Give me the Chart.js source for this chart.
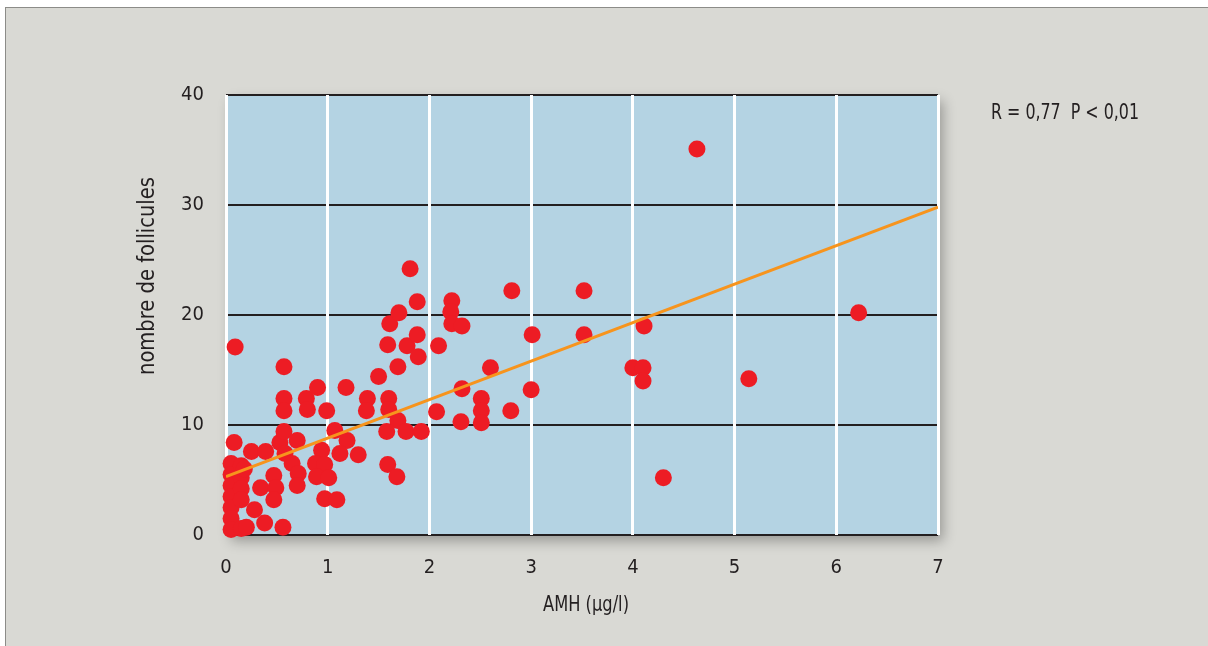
<!DOCTYPE html>
<html>
<head>
<meta charset="utf-8">
<script src="https://cdn.jsdelivr.net/npm/chart.js@4.4.1/dist/chart.umd.min.js"></script>
<style>
  html, body { margin: 0; padding: 0; background: #fff; }
  #wrap { width: 1208px; height: 646px; }
</style>
</head>
<body>
<div id="wrap"><canvas id="c" width="1208" height="646"></canvas></div>
<script>
// AMH (µg/l) vs nombre de follicules
const amh = [
  0.05, 0.05, 0.05, 0.05, 0.05, 0.05, 0.05,
  0.15, 0.15, 0.15, 0.15, 0.15, 0.20, 0.18,
  0.08, 0.09,
  0.25, 0.39, 0.28, 0.38, 0.34, 0.47, 0.49, 0.47, 0.56,
  0.53, 0.57, 0.58, 0.65, 0.71, 0.70, 0.70,
  0.57, 0.57, 0.57, 0.79, 0.80, 0.90, 0.99,
  0.94, 0.88, 0.97, 0.89, 1.01, 0.97, 1.09,
  1.07, 1.19, 1.12, 1.30, 1.18,
  1.39, 1.38, 1.50, 1.60, 1.60, 1.69, 1.58, 1.77, 1.92,
  1.59, 1.68, 1.69, 1.59, 1.78, 1.88, 1.89, 1.61, 1.70, 1.88, 1.81,
  2.07, 2.09, 2.22, 2.21, 2.22, 2.32, 2.32, 2.31,
  2.51, 2.51, 2.51, 2.60, 2.80, 2.81, 3.01, 3.00,
  3.52, 3.52, 4.00, 4.10, 4.10, 4.11, 4.30, 4.63, 5.14, 6.22
]
const follicles = [
  6.5, 5.5, 4.5, 3.5, 2.5, 1.5, 0.5,
  6.3, 5.2, 4.2, 3.2, 0.6, 0.7, 6.0,
  8.4, 17.1,
  7.6, 7.6, 2.3, 1.1, 4.3, 5.4, 4.3, 3.2, 0.7,
  8.4, 9.4, 7.4, 6.5, 5.6, 4.5, 8.6,
  15.3, 12.4, 11.3, 12.4, 11.4, 13.4, 11.3,
  7.7, 6.5, 6.4, 5.3, 5.2, 3.3, 3.2,
  9.5, 8.6, 7.4, 7.3, 13.4,
  12.4, 11.3, 14.4, 12.4, 11.4, 10.4, 9.4, 9.4, 9.4,
  6.4, 5.3, 15.3, 17.3, 17.2, 18.2, 16.2, 19.2, 20.2, 21.2, 24.2,
  11.2, 17.2, 21.3, 20.3, 19.2, 19.0, 13.3, 10.3,
  12.4, 11.3, 10.2, 15.2, 11.3, 22.2, 18.2, 13.2,
  22.2, 18.2, 15.2, 15.2, 14.0, 19.0, 5.2, 35.1, 14.2, 20.2
]

// regression line end points
const trendX = [0, 7]
const trendY = [5.3, 29.8]

const xTicks = [0, 1, 2, 3, 4, 5, 6, 7]
const yTicks = [0, 10, 20, 30, 40]

const xTitle = "AMH (\u00b5g/l)"
const yTitle = "nombre de follicules"
const statText = "R = 0,77  P < 0,01"

const FONT = "'Liberation Sans Narrow', 'DejaVu Sans Condensed', sans-serif"
const INK = "#231f20"

const points = amh.map((x, i) => ({ x, y: follicles[i] }))
const trend = trendX.map((x, i) => ({ x, y: trendY[i] }))

// narrow typeface in the original: squeeze the free text to its width
function squeezedText(ctx, text, x, y, width) {
  const w = ctx.measureText(text).width
  ctx.save()
  ctx.translate(x, y)
  ctx.scale(Math.min(1, width / w), 1)
  ctx.fillText(text, 0, 0)
  ctx.restore()
}

const frame = {
  id: "frame",
  beforeDraw(chart) {
    const { ctx, chartArea: a, width, height } = chart
    ctx.save()
    ctx.fillStyle = "#fff"
    ctx.fillRect(0, 0, width, height)
    ctx.fillStyle = "#d9d9d4"
    ctx.fillRect(5, 7, width, height)
    ctx.strokeStyle = "#8c8c88"
    ctx.lineWidth = 1
    ctx.strokeRect(5.5, 7.5, width, height)
    // plot panel with soft shadow
    ctx.shadowColor = "rgba(0,0,0,0.3)"
    ctx.shadowBlur = 12
    ctx.shadowOffsetX = 5
    ctx.shadowOffsetY = 6
    ctx.fillStyle = "#b4d3e3"
    ctx.fillRect(a.left, a.top, a.width, a.height)
    ctx.restore()
  },
  afterDraw(chart) {
    const { ctx, chartArea: a } = chart
    ctx.save()
    ctx.fillStyle = INK
    ctx.textBaseline = "middle"
    ctx.textAlign = "left"
    ctx.font = "21px " + FONT
    squeezedText(ctx, statText, 991, 114, 148)
    ctx.textAlign = "center"
    squeezedText(ctx, xTitle, (a.left + a.right) / 2 + 4, 606, 86)
    ctx.translate(148, 276)
    ctx.rotate(-Math.PI / 2)
    ctx.font = "23px " + FONT
    squeezedText(ctx, yTitle, 0, 0, 198)
    ctx.restore()
  }
}

new Chart(document.getElementById("c"), {
  type: "scatter",
  data: {
    datasets: [
      {
        type: "line",
        data: trend,
        borderColor: "#f7941d",
        borderWidth: 3,
        pointRadius: 0,
        fill: false,
        order: 0
      },
      {
        data: points,
        backgroundColor: "#ed1c24",
        borderWidth: 0,
        pointRadius: 8.5,
        pointHoverRadius: 8.5,
        clip: false,
        order: 1
      }
    ]
  },
  options: {
    responsive: false,
    animation: false,
    events: [],
    layout: { padding: { left: 126, right: 270, top: 95, bottom: 31 } },
    plugins: {
      legend: { display: false },
      tooltip: { enabled: false }
    },
    scales: {
      x: {
        type: "linear",
        min: 0,
        max: 7,
        afterFit: (s) => { s.height = 80 },
        afterBuildTicks: (s) => { s.ticks = xTicks.map(v => ({ value: v })) },
        grid: { color: "#ffffff", lineWidth: 3, drawTicks: false, z: -1 },
        border: { display: false },
        ticks: { padding: 21, color: INK, font: { family: FONT, size: 20 } }
      },
      y: {
        min: 0,
        max: 40,
        afterFit: (s) => { s.width = 100 },
        afterBuildTicks: (s) => { s.ticks = yTicks.map(v => ({ value: v })) },
        grid: { color: INK, lineWidth: 2, drawTicks: false, z: -2 },
        border: { display: false },
        ticks: { padding: 22, color: INK, font: { family: FONT, size: 20 } }
      }
    }
  },
  plugins: [frame]
})
</script>
</body>
</html>
